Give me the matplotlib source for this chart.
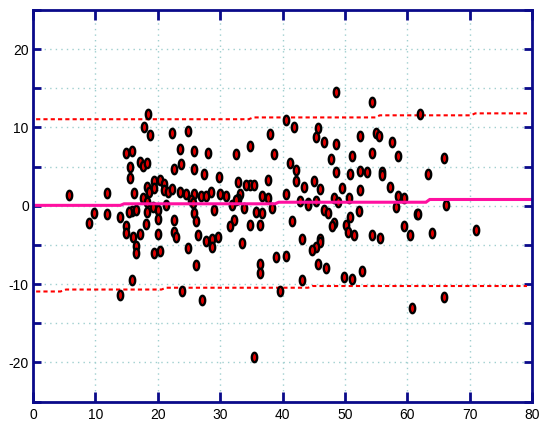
import matplotlib
matplotlib.use("Agg")
import matplotlib.pyplot as plt
from matplotlib.path import Path
import numpy as np

plt.rcParams['font.family'] = ['Liberation Sans', 'DejaVu Sans']
plt.rcParams['axes.unicode_minus'] = False

# mean of the two measurements (x) against their difference (y)
mean_vals = [
    5.7, 11.8, 18.5, 17.8, 18.75, 22.3, 24.8, 14.9, 15.9, 23.6, 25.8, 28.1, 34.8, 32.5, 38.0,
    15.6, 17.1, 17.6, 18.2, 15.6, 22.6, 23.7, 25.85, 27.45, 29.75, 34.8, 32.9, 34.2, 35.4, 37.7,
    16.2, 18.2, 18.6, 19.4, 20.35, 19.4, 21.0, 21.0, 21.7, 22.3, 23.6, 24.5, 25.8, 26.9, 27.7,
    28.5, 30.0, 31.0, 33.2, 32.9, 17.6, 18.2, 25.3, 25.6, 21.4, 19.2, 20.1, 20.1, 18.2, 18.1,
    15.8, 16.5, 15.4, 9.8, 11.8, 8.9, 14.0, 14.95, 22.6, 25.8, 26.1, 29.0, 31.9, 32.6, 33.9,
    32.2, 31.6, 35.7, 36.7, 34.8, 36.4, 36.7,
    48.6, 54.3, 62.0, 40.5, 41.9, 45.7, 45.4, 52.5, 55.0, 55.4, 46.7, 48.6, 57.5, 38.7, 47.7,
    51.2, 54.4, 58.5, 65.9, 41.2, 42.2, 48.6, 50.85, 52.5, 53.5, 55.9, 55.9, 63.35, 42.2, 45.1,
    43.5, 46.0, 49.6, 57.3, 40.6, 52.5, 37.7, 48.2, 50.6, 58.5, 59.5, 42.8, 44.1, 44.1, 45.4,
    48.9, 38.35, 46.7, 47.3, 52.2, 58.2, 61.5, 61.8, 66.2, 41.55, 48.3, 48.0, 50.2, 50.9, 59.5,
    71.0,
    14.9, 16.1, 17.1, 20.1, 22.6, 23.0, 26.5, 27.7, 28.7, 28.7, 29.7, 33.5, 16.5, 16.5, 19.4,
    20.35, 24.9, 26.1, 36.4, 36.4, 15.9, 13.9, 23.9, 27.1, 35.5,
    50.5, 51.5, 54.4, 55.7, 60.5, 64.0, 43.2, 46.0, 46.0, 45.35, 44.8, 39.0, 40.6, 45.7, 47.0,
    52.8, 49.9, 51.2, 43.2, 39.6, 65.9, 60.8,
]
diff_vals = [
    1.4, 1.6, 11.7, 10.1, 9.0, 9.3, 9.6, 6.75, 7.05, 7.3, 7.05, 6.75, 7.6, 6.6, 9.1,
    4.9, 5.6, 5.1, 5.5, 3.5, 4.7, 5.3, 4.75, 4.0, 3.7, 2.6, 3.05, 2.7, 2.7, 3.3,
    1.65, 2.4, 1.8, 3.2, 3.35, 2.3, 2.75, 2.05, 1.7, 2.2, 1.8, 1.55, 1.45, 1.3, 1.3,
    1.7, 1.45, 1.2, 1.45, 0.9, 1.0, 0.5, 0.75, 0.4, 0.05, -0.2, -0.6, -1.65, -0.8, -2.35,
    -0.65, -0.5, -0.8, -0.9, -1.0, -2.2, -1.4, -2.6, -1.8, -0.9, -1.95, -0.5, 0.05, 0.7, -0.3,
    -1.85, -2.55, -0.8, -0.9, -2.4, -2.5, 1.2,
    14.5, 13.2, 11.7, 11.0, 10.1, 9.9, 8.8, 8.85, 9.35, 8.95, 8.1, 7.9, 8.1, 6.6, 6.0,
    6.35, 6.8, 6.3, 6.15, 5.5, 4.6, 4.35, 4.0, 4.5, 4.25, 4.25, 3.9, 4.05, 3.15, 3.2,
    2.45, 2.2, 2.3, 2.45, 1.45, 1.95, 1.05, 1.0, 1.0, 1.2, 1.0, 0.55, 0.4, 0.05, 0.65,
    0.5, -0.25, -0.55, -0.9, -0.65, -0.1, -1.0, -1.0, 0.15, -1.9, -2.15, -2.65, -2.4, -1.4, -2.65,
    -3.1,
    -3.45, -4.0, -3.55, -3.55, -3.35, -4.0, -3.7, -4.45, -4.3, -5.3, -4.0, -4.7, -5.15, -6.05, -6.0,
    -5.75, -5.45, -7.55, -7.5, -8.6, -9.45, -11.35, -10.9, -12.05, -19.3,
    -3.35, -3.7, -3.7, -4.1, -3.7, -3.45, -4.2, -4.2, -4.6, -5.25, -5.6, -6.55, -6.4, -7.4, -7.9,
    -8.35, -9.05, -9.3, -9.45, -10.9, -11.6, -13.05,
]

# running bias and limits of agreement
bias_x = [0, 14.0, 14.6, 38.8, 39.4, 63.0, 63.6, 80]
bias_y = [0.05, 0.05, 0.25, 0.25, 0.45, 0.45, 0.8, 0.8]
upper_x = [0.5, 34.6, 35.3, 54.9, 55.6, 70.2, 70.9, 79.2]
upper_y = [11.05, 11.05, 11.28, 11.28, 11.55, 11.55, 11.8, 11.8]
lower_x = [0.5, 4.4, 5.3, 20.6, 21.3, 44.1, 44.8, 79.2]
lower_y = [-10.95, -10.95, -10.7, -10.7, -10.47, -10.47, -10.25, -10.25]

navy = '#0a0a8a'

fig = plt.figure(figsize=(5.48, 4.23), dpi=100)
ax = fig.add_axes([33 / 548, 21.5 / 423, 499 / 548, 391.5 / 423])

# vertical oval marker
t = np.linspace(0, 2 * np.pi, 41)
oval = Path(np.column_stack([0.57 * np.cos(t), np.sin(t)]), closed=True)

ax.grid(True, linestyle=(0, (1, 3)), color='#9fcfcf', linewidth=1.0)
ax.set_axisbelow(True)

ax.plot(upper_x, upper_y, color='#ff0000', linestyle=(0, (2, 1.5)), linewidth=1.5)
ax.plot(lower_x, lower_y, color='#ff0000', linestyle=(0, (2, 1.5)), linewidth=1.5)
ax.plot(mean_vals, diff_vals, linestyle='none', marker=oval, markersize=6.8,
        markerfacecolor='#e00000', markeredgecolor='black', markeredgewidth=1.7)
ax.plot(bias_x, bias_y, color='#ff10a0', linewidth=2.2, solid_joinstyle='miter')

ax.set_xlim(0, 80)
ax.set_ylim(-25, 25)
ax.set_xticks(np.arange(0, 81, 10))
yt = np.arange(-25, 26, 5)
ax.set_yticks(yt)
ax.set_yticklabels([str(v) if v % 10 == 0 and abs(v) < 25 else '' for v in yt])

for s in ax.spines.values():
    s.set_color(navy)
    s.set_linewidth(2)
ax.tick_params(direction='in', width=2, color=navy, labelsize=10,
               top=True, right=True, labelcolor='black')
ax.tick_params(axis='x', length=7, pad=5)
ax.tick_params(axis='y', length=5.5, pad=3)

fig.savefig('out.png', dpi=100)
